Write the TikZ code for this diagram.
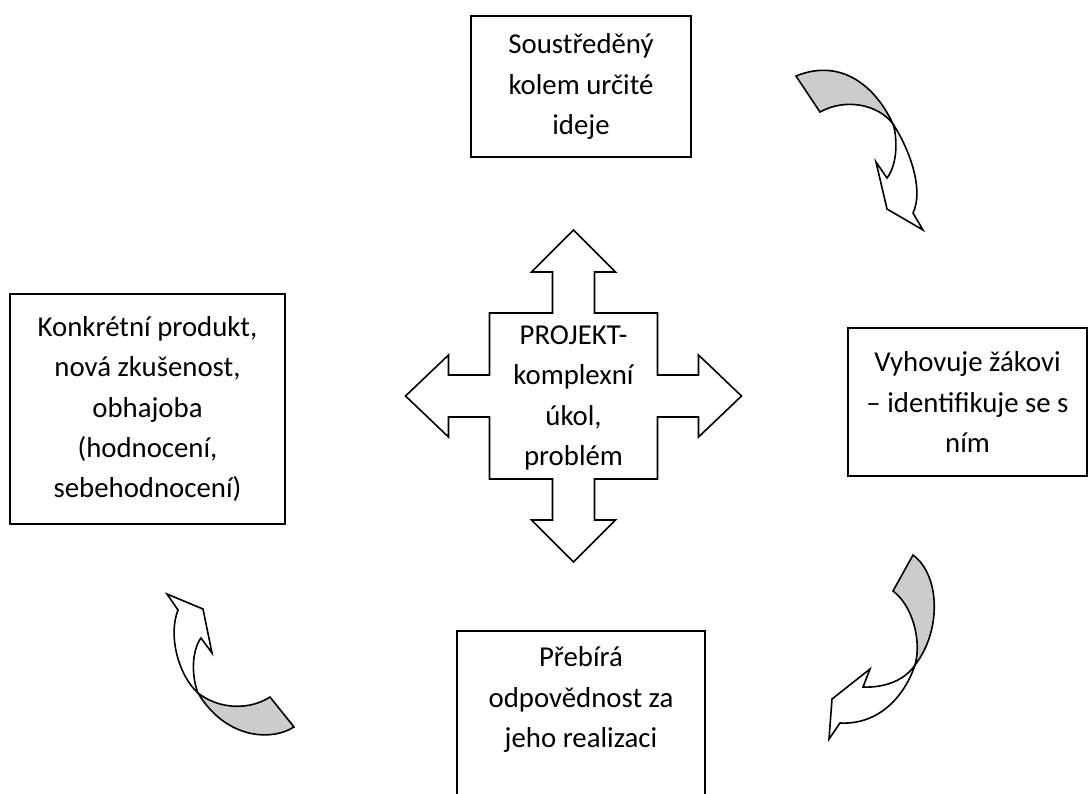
\documentclass[tikz,border=0pt]{standalone}
\usepackage{fontspec}
\setmainfont{Carlito}
\usetikzlibrary{positioning}

\tikzset{
  box/.style={draw, line width=1.6pt, inner sep=0pt, align=center,
    font=\fontsize{28.8}{40.4}\selectfont},
  ribbon/.style={line width=1.6pt},
  back/.style={ribbon, fill=gray!40},
}

\begin{document}
\begin{tikzpicture}[x=1pt, y=-1pt]
    \useasboundingbox (0,0) rectangle (1089,793);
    \clip (0,0) rectangle (1089,793);

    % boxes
    \node[box, minimum width=220, minimum height=141] (idea) at (581,86.5)
        {Soustředěný\\kolem určité\\ideje};
    \node[box, minimum width=239, minimum height=148] (zak) at (967.5,402)
        {Vyhovuje žákovi\\– identifikuje se s\\ním};
    \node[box, anchor=north, minimum width=248, inner ysep=16pt, text depth=200pt] (realizace) at (581,630)
        {Přebírá\\odpovědnost za\\jeho realizaci};
    \node[box, minimum width=275, minimum height=230] (produkt) at (147.5,409)
        {Konkrétní produkt,\\nová zkušenost,\\obhajoba\\(hodnocení,\\sebehodnocení)};

    % cross
    \coordinate (c) at (573.5,396);
    \draw[ribbon, shift={(c)}]
        (0,-166) -- (42,-124) -- (21,-124) -- (21,-83) -- (84,-83) -- (84,-21)
        -- (125,-21) -- (125,-41) -- (168,0) -- (125,41) -- (125,21) -- (84,21)
        -- (84,83) -- (21,83) -- (21,124) -- (42,124) -- (0,166) -- (-42,124)
        -- (-21,124) -- (-21,83) -- (-84,83) -- (-84,21) -- (-125,21) -- (-125,41)
        -- (-168,0) -- (-125,-41) -- (-125,-21) -- (-84,-21) -- (-84,-83)
        -- (-21,-83) -- (-21,-124) -- (-42,-124) -- cycle;
    \node[box, draw=none] (projekt) at (573.5,398) {PROJEKT-\\komplexní\\úkol,\\problém};

    % curved arrows
    \draw[back] (796,76) .. controls (840,58) and (875,85) .. (893,124)
        .. controls (878,104) and (845,98) .. (820,112) -- cycle;
    \draw[ribbon] (893,124) .. controls (910,150) and (924,190) .. (913,213)
        -- (923,230) -- (887,209) -- (876,162) -- (887,178)
        .. controls (897,165) and (898,140) .. (893,124);

    \draw[back] (913,555) .. controls (940,575) and (942,630) .. (915,665)
        .. controls (922,640) and (912,605) .. (893,591) -- cycle;
    \draw[ribbon] (915,665) .. controls (905,680) and (885,688) .. (863,687)
        -- (870,669) -- (832,699) -- (829,739) -- (840,723)
        .. controls (880,725) and (905,695) .. (915,665);

    \draw[back] (270,697) .. controls (250,710) and (220,710) .. (198,693)
        .. controls (225,738) and (270,742) .. (294,727) -- cycle;
    \draw[ribbon] (198,693) .. controls (191,675) and (192,650) .. (201,638)
        -- (212,653) -- (203,609) -- (167,594) -- (178,610)
        .. controls (168,635) and (178,675) .. (198,693);

\end{tikzpicture}
\end{document}
